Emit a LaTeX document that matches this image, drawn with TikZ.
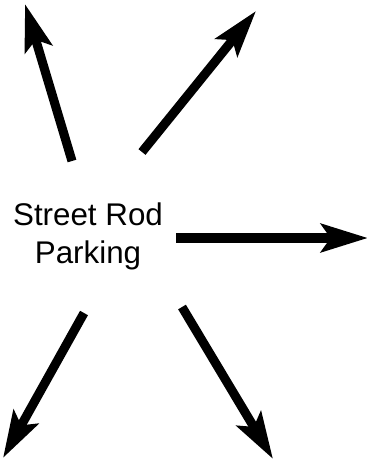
\documentclass[tikz,border=0pt]{standalone}
\usepackage{fontspec}
\setmainfont{Liberation Sans}
\usetikzlibrary{arrows.meta}
\tikzset{
  bigarrow/.style={line width=6.8pt,
    -{Stealth[length=35pt,width=21pt,inset=7pt]}},
  label/.style={align=center,inner sep=0pt,font=\fontsize{23.5}{28.5}\selectfont}
}
\begin{document}
\begin{tikzpicture}[x=0.75pt,y=-0.75pt]
\useasboundingbox (0,0) rectangle (367,467);
\node[label,anchor=base] (lbl) at (88,263) {Street Rod\\Parking};
\coordinate (t1) at (72,161);  \coordinate (h1) at (25,4);
\coordinate (t2) at (142,152); \coordinate (h2) at (256,11);
\coordinate (t3) at (176,238); \coordinate (h3) at (368,238);
\coordinate (t4) at (84,313);  \coordinate (h4) at (3,458);
\coordinate (t5) at (182,307); \coordinate (h5) at (273,459);
\draw[bigarrow] (t1) -- (h1);
\draw[bigarrow] (t2) -- (h2);
\draw[bigarrow] (t3) -- (h3);
\draw[bigarrow] (t4) -- (h4);
\draw[bigarrow] (t5) -- (h5);
\end{tikzpicture}
\end{document}
